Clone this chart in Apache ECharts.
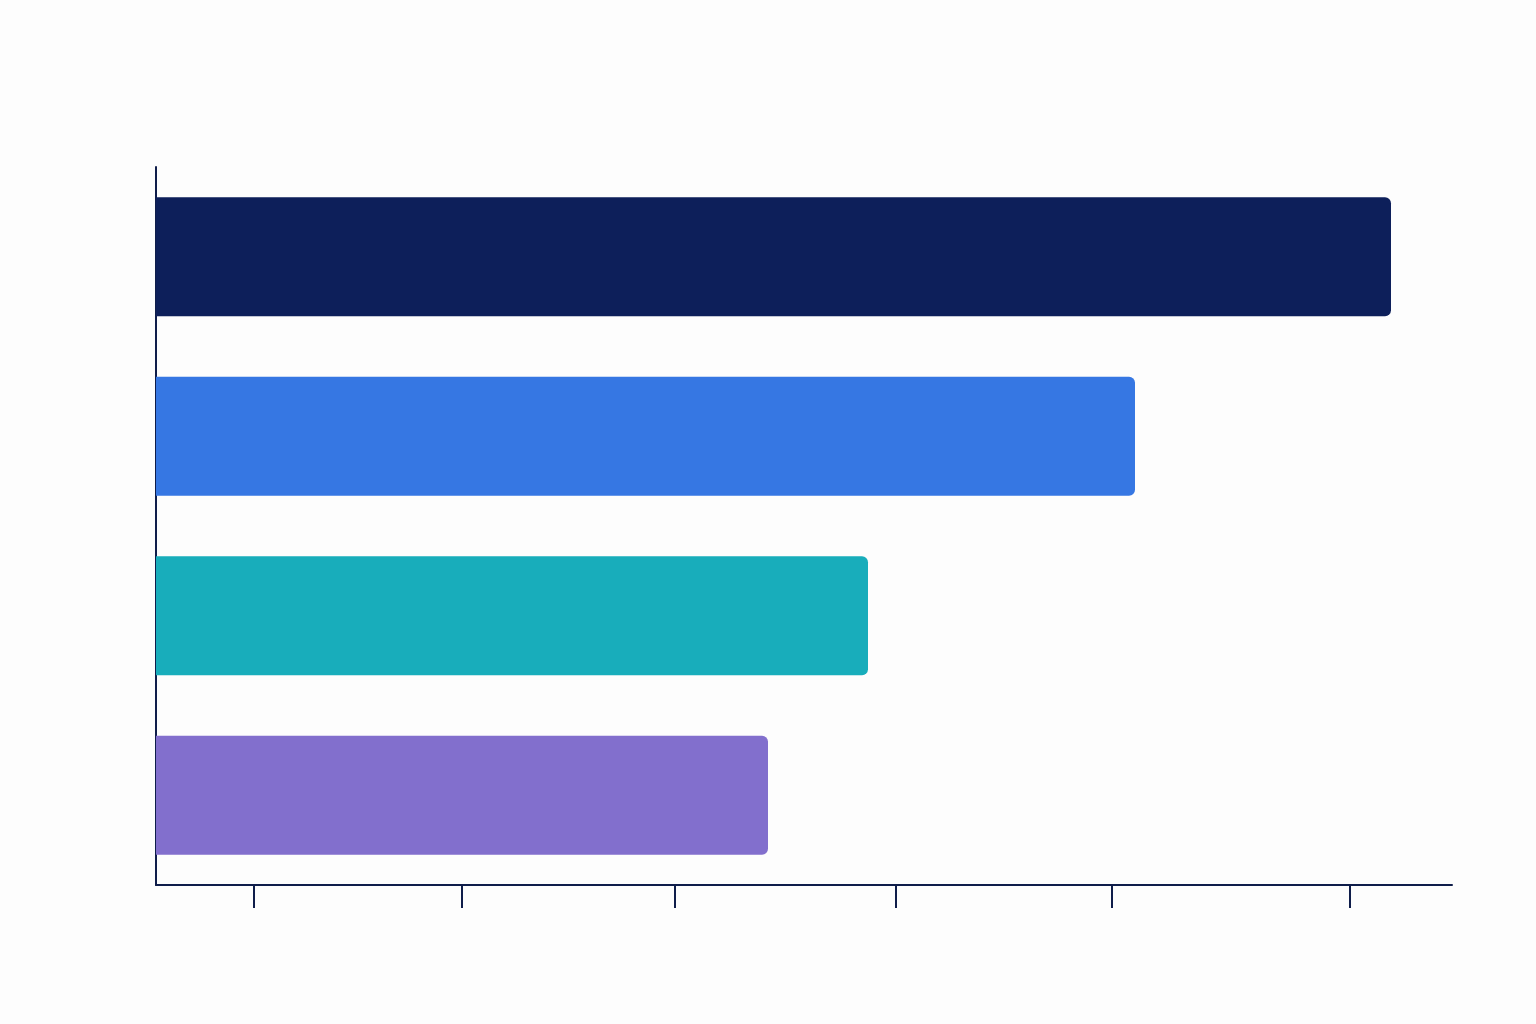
<!DOCTYPE html>
<html><head><meta charset="utf-8">
<script src="https://cdn.jsdelivr.net/npm/echarts@6/dist/echarts.min.js"></script>
<style>html,body{margin:0;background:#fdfdfd}#c{width:1536px;height:1024px}</style>
</head><body><div id="c"></div>
<script>
const categories = ['A', 'B', 'C', 'D'];
const values = [1235, 979, 712, 612];
const tickValues = [98, 306, 519, 740, 956, 1194];
const colors = ['#0d1f5a', '#3677e3', '#18adbb', '#826fcd'];
const axisMax = 1296;

const chart = echarts.init(document.getElementById('c'));
chart.setOption({
  backgroundColor: '#fdfdfd',
  animation: false,
  grid: { left: 156, right: 84, top: 167, bottom: 139 },
  xAxis: {
    type: 'value', min: 0, max: axisMax,
    axisLine: { show: true, lineStyle: { color: '#0f1d4a', width: 2 } },
    axisTick: { show: true, customValues: tickValues, length: 23, lineStyle: { color: '#0f1d4a', width: 2 } },
    axisLabel: { show: false },
    splitLine: { show: false }
  },
  yAxis: {
    type: 'category', data: categories, inverse: true,
    axisLine: { show: true, lineStyle: { color: '#0f1d4a', width: 2 } },
    axisTick: { show: false }, axisLabel: { show: false }
  },
  series: [{
    type: 'bar', barWidth: 119,
    data: values.map((v, i) => ({ value: v, itemStyle: { color: colors[i] } })),
    itemStyle: { borderRadius: [0, 6, 6, 0] }
  }]
});
</script></body></html>
